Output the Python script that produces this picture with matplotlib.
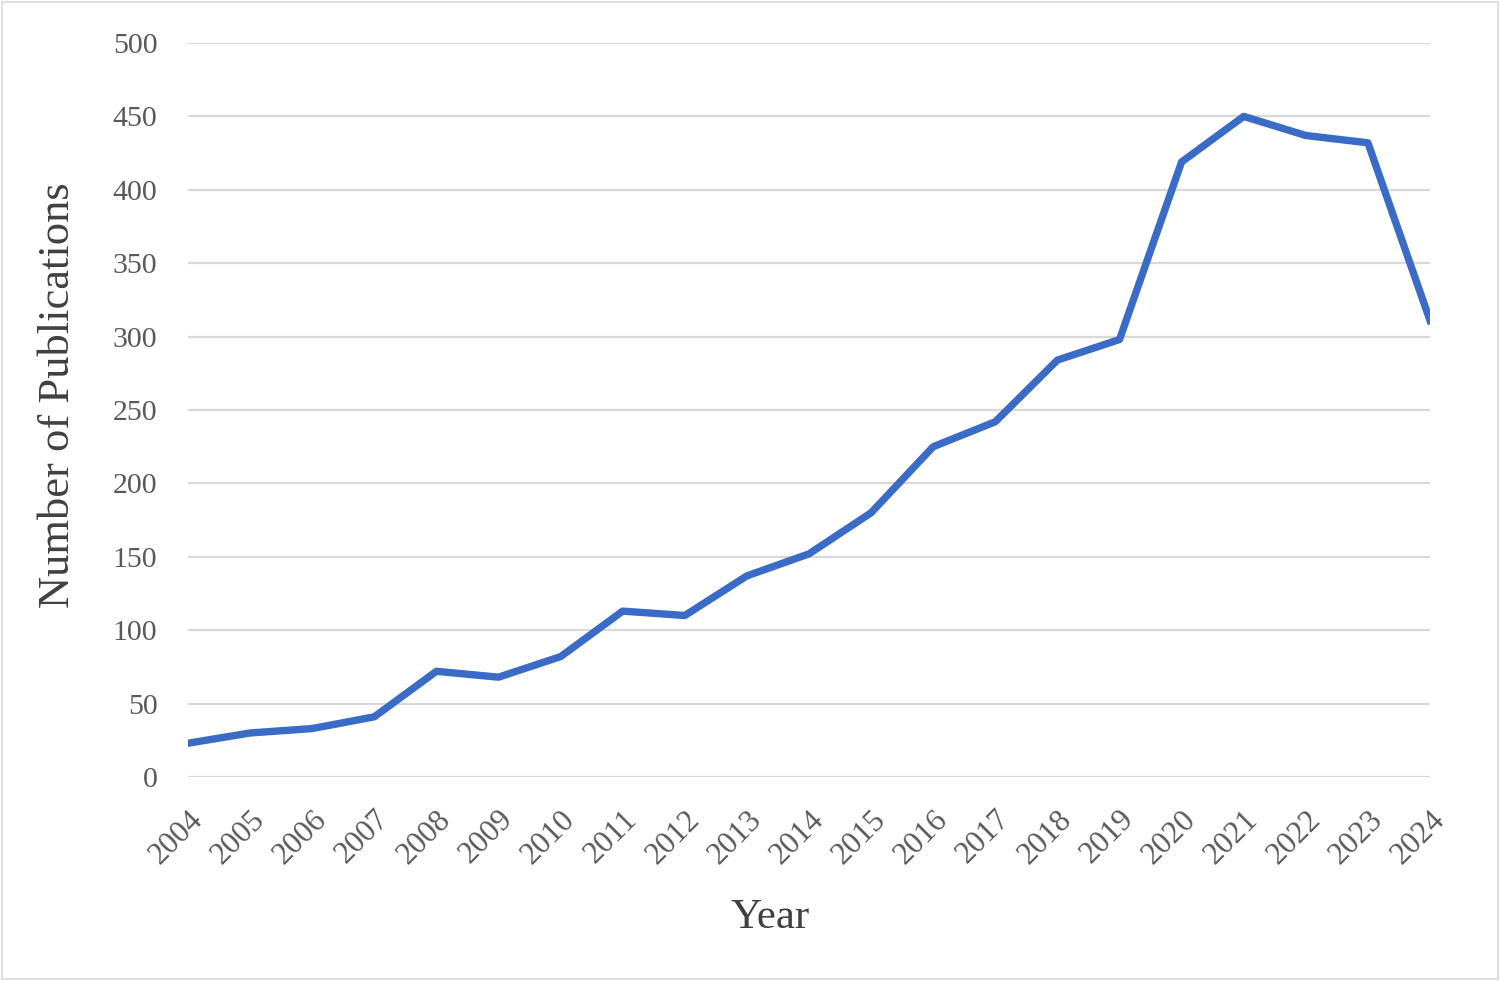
import matplotlib
matplotlib.use("Agg")
import matplotlib.pyplot as plt
from matplotlib.patches import Rectangle

years = list(range(2004, 2025))
publications = [23, 30, 33, 41, 72, 68, 82, 113, 110, 137, 152, 180, 225, 242, 284, 298, 419, 450, 437, 432, 311]
yticks = [0, 50, 100, 150, 200, 250, 300, 350, 400, 450, 500]

plt.rcParams['font.family'] = ['Liberation Serif', 'DejaVu Serif']

fig = plt.figure(figsize=(15, 9.81), dpi=100)
ax = fig.add_axes([188/1500, 1-777/981, (1430-188)/1500, (777-43)/981])

ax.plot(years, publications, color='#3a6bc7', linewidth=5.3, solid_joinstyle='round', clip_on=True, zorder=3)

ax.set_xlim(2004, 2024)
ax.set_ylim(0, 500)
ax.set_yticks(yticks)
ax.set_xticks(years)
ax.set_xticklabels([str(y) for y in years], rotation=45, ha='right', va='top', rotation_mode='anchor')
ax.tick_params(axis='both', length=0, labelcolor='#595959')
ax.tick_params(axis='y', pad=22, labelsize=21.5)
ax.tick_params(axis='x', pad=20, labelsize=22.5)
ax.grid(axis='y', color='#d9d9d9', linewidth=1.6)
ax.set_axisbelow(True)
for s in ax.spines.values():
    s.set_visible(False)

fig.text(58/1500, 1-395/981, 'Number of Publications', rotation=90, ha='center', va='center',
         fontsize=32, color='#404040')
fig.text(770/1500, 1-918/981, 'Year', ha='center', va='center', fontsize=31, color='#404040')

fig.patches.append(Rectangle((2/1500, 2/981), 1-4/1500, 1-4/981, transform=fig.transFigure,
                             fill=False, edgecolor='#d9d9d9', linewidth=1.2))

fig.savefig('out.png', dpi=100, facecolor='white')
